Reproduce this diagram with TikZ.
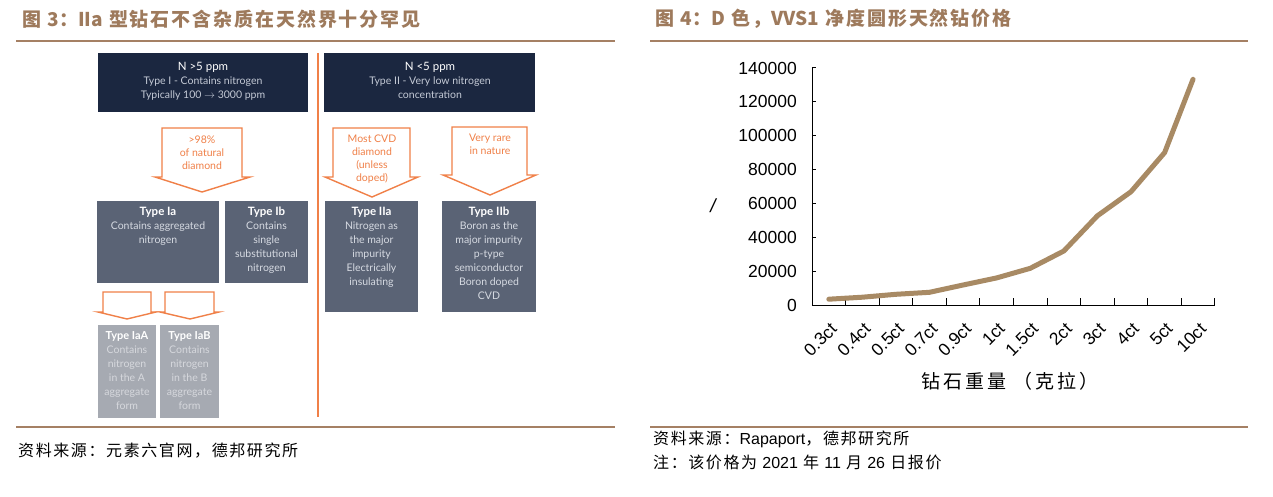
\documentclass[tikz,border=0pt]{standalone}
\usepackage{fontspec}
\setmainfont{Lato}
\newfontfamily\cjk{Noto Sans CJK SC}
\newfontfamily\cjkwide{Noto Sans CJK SC}[LetterSpace=10]
\newfontfamily\cjksrc{Noto Sans CJK SC}[LetterSpace=10]
\newfontfamily\cjkax{Noto Sans CJK SC}[LetterSpace=15]
\newfontfamily\arial{Liberation Sans}
\definecolor{brownt}{RGB}{158,122,92}
\definecolor{rulec}{RGB}{165,128,100}
\definecolor{navy}{RGB}{27,39,64}
\definecolor{slate}{RGB}{90,99,117}
\definecolor{lgray}{RGB}{166,170,178}
\definecolor{orng}{RGB}{240,128,72}
\definecolor{navytxt}{RGB}{196,202,214}
\definecolor{slatetxt}{RGB}{214,218,226}
\definecolor{lgraytxt}{RGB}{214,216,221}
\definecolor{linec}{RGB}{168,138,100}
\tikzset{
  titletxt/.style={anchor=west, text=brownt, font=\cjkwide\bfseries\fontsize{19}{21}\selectfont, inner sep=0},
  srctxt/.style={anchor=west, text=black, font=\cjksrc\fontsize{16}{18}\selectfont, inner sep=0},
  hrule/.style={draw=rulec, line width=2pt},
  navybox/.style={fill=navy, draw=none, inner sep=0, anchor=north west},
  slatebox/.style={fill=slate, draw=none, inner sep=0, anchor=north west},
  lgraybox/.style={fill=lgray, draw=none, inner sep=0, anchor=north west},
  boxtxt/.style={anchor=north, align=center, inner sep=0, font=\fontsize{10.5}{14}\selectfont},
  arrtxt/.style={anchor=north, align=center, inner sep=0, text=orng, font=\fontsize{10.5}{13}\selectfont},
  blockarrow/.style={draw=orng, fill=white, line width=1.4pt, line join=miter},
  axis/.style={draw=black, line width=1pt},
  numlab/.style={font=\arial\fontsize{17.5}{20}\selectfont, inner sep=0},
}
\begin{document}
\begin{tikzpicture}[x=1pt,y=-1pt]
\useasboundingbox[fill=white] (0,0) rectangle (1273,497);

% ---------------- left panel ----------------
\node[titletxt] (t3) at (22,19) {图 {\cjk 3}：{\cjk IIa} 型钻石不含杂质在天然界十分罕见};
\draw[hrule] (16,41) -- (615,41);
\draw[hrule] (16,427) -- (615,427);
\node[srctxt] (s3) at (18,451) {资料来源：元素六官网，德邦研究所};

% top boxes
\node[navybox, minimum width=210pt, minimum height=59pt] (nI) at (98,53) {};
\node[navybox, minimum width=211pt, minimum height=59pt] (nII) at (324,53) {};
\node[boxtxt, text=navytxt] (nIt) at (203,62) {{\color{white}\fontsize{11.5}{14}\selectfont N >5 ppm}\\Type I - Contains nitrogen\\Typically 100 \textbf{$\rightarrow$} 3000 ppm};
\node[boxtxt, text=navytxt] (nIIt) at (430,62) {{\color{white}\fontsize{11.5}{14}\selectfont N <5 ppm}\\Type II - Very low nitrogen\\concentration};

% separator
\draw[draw=orng, line width=1.4pt] (318,53) -- (318,417);

% block arrows
\draw[blockarrow] (162,128) -- (242,128) -- (242,177) -- (250,177) -- (202,192) -- (155,177) -- (162,177) -- cycle;
\draw[blockarrow] (333,128) -- (410,128) -- (410,177) -- (418,177) -- (372,197) -- (325,177) -- (333,177) -- cycle;
\draw[blockarrow] (452,127) -- (527,127) -- (527,175) -- (536,175) -- (490,195) -- (443,175) -- (452,175) -- cycle;
\draw[blockarrow] (103,292) -- (151,292) -- (151,312) -- (156,312) -- (127,319) -- (98,312) -- (103,312) -- cycle;
\draw[blockarrow] (165,292) -- (214,292) -- (214,312) -- (219,312) -- (190,319) -- (160,312) -- (165,312) -- cycle;
\node[arrtxt] (a1) at (202,136) {>98\%\\of natural\\diamond};
\node[arrtxt] (a2) at (372,135) {Most CVD\\diamond\\(unless\\doped)};
\node[arrtxt] (a3) at (490,134) {Very rare\\in nature};

% type boxes
\node[slatebox, minimum width=122pt, minimum height=82pt] (ia) at (97,201) {};
\node[slatebox, minimum width=83pt, minimum height=82pt] (ib) at (225,201) {};
\node[slatebox, minimum width=93pt, minimum height=111pt] (iia) at (325,201) {};
\node[slatebox, minimum width=94pt, minimum height=111pt] (iib) at (442,201) {};
\node[boxtxt, text=slatetxt] (iat) at (158,207) {{\color{white}\bfseries\fontsize{11.5}{14}\selectfont Type Ia}\\Contains aggregated\\nitrogen};
\node[boxtxt, text=slatetxt] (ibt) at (266.5,207) {{\color{white}\bfseries\fontsize{11.5}{14}\selectfont Type Ib}\\Contains\\single\\substitutional\\nitrogen};
\node[boxtxt, text=slatetxt] (iiat) at (371.5,207) {{\color{white}\bfseries\fontsize{11.5}{14}\selectfont Type IIa}\\Nitrogen as\\the major\\impurity\\Electrically\\insulating};
\node[boxtxt, text=slatetxt] (iibt) at (489,207) {{\color{white}\bfseries\fontsize{11.5}{14}\selectfont Type IIb}\\Boron as the\\major impurity\\p-type\\semiconductor\\Boron doped\\CVD};

\node[lgraybox, minimum width=58pt, minimum height=93pt] (iaa) at (98,325) {};
\node[lgraybox, minimum width=59pt, minimum height=93pt] (iab) at (160,325) {};
\node[boxtxt, text=lgraytxt] (iaat) at (127,331) {{\color{white}\bfseries\fontsize{11}{14}\selectfont Type IaA}\\Contains\\nitrogen\\in the A\\aggregate\\form};
\node[boxtxt, text=lgraytxt] (iabt) at (189.5,331) {{\color{white}\bfseries\fontsize{11}{14}\selectfont Type IaB}\\Contains\\nitrogen\\in the B\\aggregate\\form};

% ---------------- right panel ----------------
\node[titletxt] (t4) at (655,19) {图 {\cjk 4}：{\cjk D} 色，{\cjk VVS1} 净度圆形天然钻价格};
\draw[hrule] (650,41) -- (1248,41);
\draw[hrule] (650,427) -- (1248,427);
\node[srctxt] (s4a) at (653,439) {资料来源：{\arial Rapaport}，德邦研究所};
\node[srctxt] (s4b) at (653,462) {注：该价格为 {\arial 2021} 年 {\arial 11} 月 {\arial 26} 日报价};

% axes
\draw[axis] (812,68) -- (812,305) -- (1215,305);
\foreach \v [count=\i from 0] in {0,20000,40000,60000,80000,100000,120000,140000}{
  \node[numlab, anchor=east] (yl\i) at (797,305-\i*33.86) {\v};
  \draw[axis] (812,305-\i*33.86) -- (816,305-\i*33.86);
}
\foreach \k in {1,...,12}{
  \draw[axis] (812+\k*33.58,305) -- (812+\k*33.58,298);
}
\foreach \lab [count=\i from 0] in {0.3ct,0.4ct,0.5ct,0.7ct,0.9ct,1ct,1.5ct,2ct,3ct,4ct,5ct,10ct}{
  \node[numlab, anchor=east, rotate=45] (xl\i) at (812+\i*33.58+16.79+5,326) {\lab};
}
\node[numlab, font=\arial\itshape\fontsize{19}{20}\selectfont] (ylab) at (713,206) {/};
\node[anchor=center, inner sep=0, font=\cjkax\fontsize{19}{21}\selectfont] (xlab) at (1010,381) {钻石重量 （克拉）};

% data line
\draw[draw=linec, line width=5pt, line cap=round, line join=round]
  plot coordinates {
   (828.8,299.2) (862.4,297.2) (895.9,294.3) (929.5,292.3) (963.1,285.0) (996.7,277.9)
   (1030.3,268.3) (1063.8,251.0) (1097.4,215.8) (1131.0,191.7) (1164.6,152.6) (1193.0,79.3)};
\end{tikzpicture}
\end{document}
